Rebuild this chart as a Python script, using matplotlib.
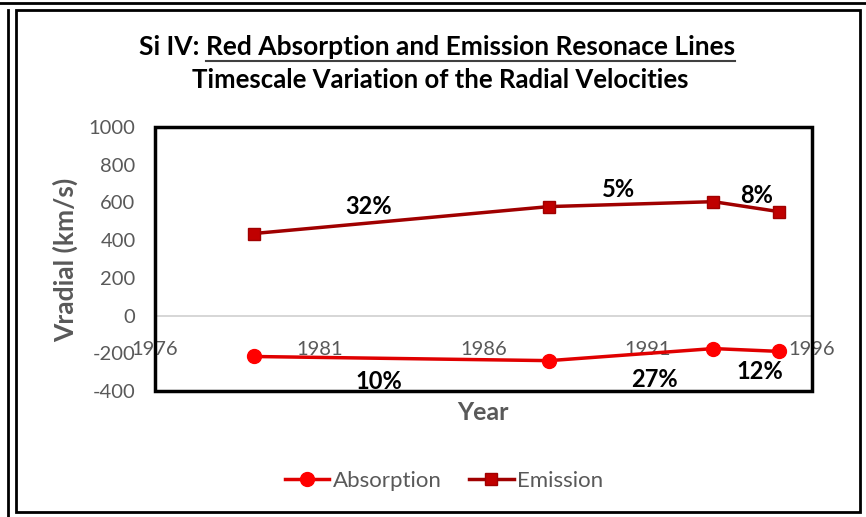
import matplotlib.pyplot as plt
from matplotlib.lines import Line2D
from matplotlib.patches import Rectangle

plt.rcParams['font.family'] = ['Lato', 'DejaVu Sans']
plt.rcParams['axes.unicode_minus'] = False

# данные
years = [1979, 1988, 1993, 1995]
absorption = [-217, -239, -175, -190]
emission = [435, 578, 604, 551]

x_ticks = [1976, 1981, 1986, 1991, 1996]
y_ticks = [-400, -200, 0, 200, 400, 600, 800, 1000]

# подписи изменений (текст, x, y)
pct_labels = ['32%', '5%', '8%', '10%', '27%', '12%']
pct_x = [1982.5, 1990.1, 1994.3, 1982.8, 1991.2, 1994.4]
pct_y = [578, 670, 636, -350, -340, -297]

W, H = 866, 517
fig = plt.figure(figsize=(W / 100, H / 100), dpi=100)


def fx(px):
    return px / W


def fy(py):
    return 1 - py / H


# рамки вокруг графика
fig.add_artist(Line2D([0, 1], [fy(3), fy(3)], color='black', lw=2))
fig.add_artist(Line2D([fx(8), fx(8)], [fy(10), 0], color='black', lw=2))
fig.add_artist(Rectangle((fx(16), fy(512)), fx(860) - fx(16), fy(10) - fy(512),
                         fill=False, edgecolor='black', lw=2))

ax = fig.add_axes([fx(155), fy(391), fx(812) - fx(155), fy(127) - fy(391)])

gray = '#595959'
ax.plot(years, absorption, color='#e00000', lw=2.5, marker='o', markersize=10,
        markerfacecolor='#ff0000', markeredgecolor='#ff0000', label='Absorption', zorder=3)
ax.plot(years, emission, color='#a00000', lw=2.5, marker='s', markersize=9,
        markerfacecolor='#c00000', markeredgecolor='#a00000', label='Emission', zorder=3)

ax.set_xlim(1976, 1996)
ax.set_ylim(-400, 1000)
ax.set_xticks(x_ticks)
ax.set_yticks(y_ticks)

# ось X проходит через ноль
for s in ['top', 'left', 'right']:
    ax.spines[s].set_visible(False)
ax.spines['bottom'].set_position(('data', 0))
ax.spines['bottom'].set_color('#d0d0d0')
ax.spines['bottom'].set_linewidth(1.2)
ax.add_patch(Rectangle((0, 0), 1, 1, transform=ax.transAxes, fill=False,
                       edgecolor='black', lw=2.5, clip_on=False, zorder=5))

ax.tick_params(axis='x', length=0, pad=18, labelsize=14.5, labelcolor=gray)
ax.tick_params(axis='y', length=0, pad=14, labelsize=14.5, labelcolor=gray)

for t, x, y in zip(pct_labels, pct_x, pct_y):
    ax.text(x, y, t, ha='center', va='center', fontsize=17, fontweight='bold', color='black')

# подписи осей
fig.text(fx(65), fy(260), 'Vradial (km/s)', rotation=90, ha='center', va='center',
         fontsize=19, fontweight='bold', color=gray)
fig.text(fx(483), fy(412), 'Year', ha='center', va='center', fontsize=18,
         fontweight='bold', color=gray)

# заголовок с подчёркиванием
t1 = fig.text(0.5, fy(47), 'Si IV: ', ha='right', va='center', fontsize=19, fontweight='bold')
t2 = fig.text(0.5, fy(47), 'Red Absorption and Emission Resonace Lines', ha='left',
              va='center', fontsize=19, fontweight='bold')
fig.text(fx(440), fy(80), 'Timescale Variation of the Radial Velocities', ha='center',
         va='center', fontsize=18.5, fontweight='bold')

fig.legend(loc='center', bbox_to_anchor=(fx(444), fy(481)), ncol=2, frameon=False,
           fontsize=16, labelcolor=gray, handlelength=2.0, columnspacing=1.25,
           handletextpad=0.15)

fig.canvas.draw()
r = fig.canvas.get_renderer()
w1 = t1.get_window_extent(r).width
w2 = t2.get_window_extent(r).width
split = 437 - (w1 + w2) / 2 + w1
t1.set_x(fx(split))
t2.set_x(fx(split))
fig.add_artist(Line2D([fx(split), fx(split + w2)], [fy(61), fy(61)], color='#404040', lw=1.5))

fig.savefig('out.png', dpi=100)
